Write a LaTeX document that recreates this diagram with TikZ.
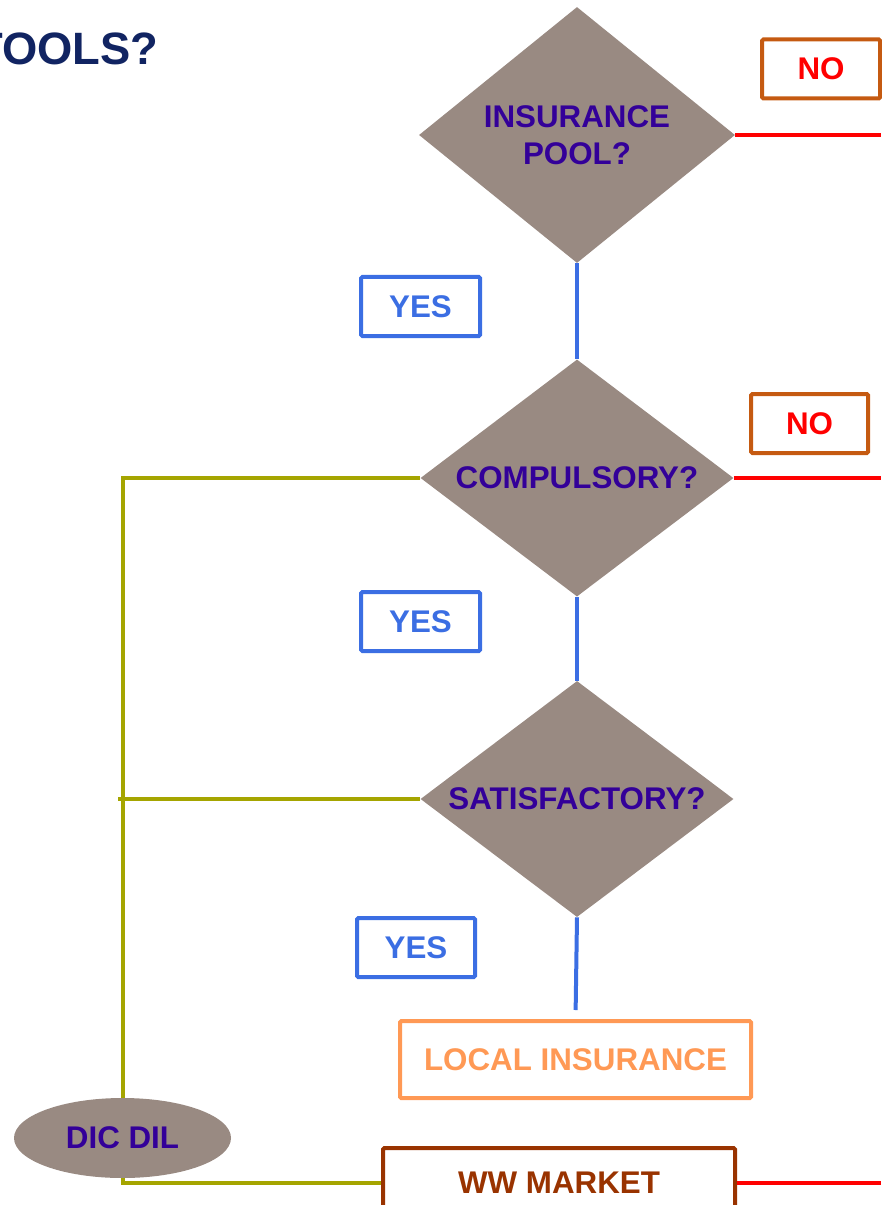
\documentclass[tikz,border=0pt]{standalone}
\usepackage{fontspec}
\setmainfont{Liberation Sans}
\usetikzlibrary{shapes.geometric}
\definecolor{DiamondGray}{RGB}{153,138,130}
\definecolor{AskPurple}{RGB}{51,0,153}
\definecolor{TitleNavy}{RGB}{17,36,98}
\definecolor{YesBlue}{RGB}{59,110,227}
\definecolor{NoOrange}{RGB}{197,90,17}
\definecolor{LocalOrange}{RGB}{255,153,85}
\definecolor{MarketBrown}{RGB}{153,51,0}
\definecolor{Olive}{RGB}{165,165,0}
\newlength{\Px}
\setlength{\Px}{0.75pt}
\tikzset{
  label font/.style={font=\fontsize{23.5}{28}\selectfont\bfseries},
  decision/.style={diamond, shape aspect=1.6, fill=DiamondGray, inner sep=0pt,
    text=AskPurple, align=center, label font},
  answer box/.style={draw, line width=3pt, rounded corners=1pt, inner sep=0pt, label font},
  yes box/.style={answer box, draw=YesBlue, text=YesBlue,
    minimum width=119\Px, minimum height=59\Px},
  no box/.style={answer box, draw=NoOrange, text=red,
    minimum width=118\Px, minimum height=59\Px},
  yes line/.style={draw=YesBlue, line width=3pt},
  no line/.style={draw=red, line width=3pt},
  dic line/.style={draw=Olive, line width=3pt},
}

\begin{document}
\begin{tikzpicture}[x=1\Px, y=-1\Px]
  \useasboundingbox (0,0) rectangle (881,1205);

  \node[anchor=base east, text=TitleNavy, font=\fontsize{34}{40}\selectfont\bfseries]
    (title) at (163,65) {TOOLS?};

  % questions
  \node[decision, minimum width=316\Px, minimum height=256\Px] (pool) at (577,135)
    {INSURANCE\\POOL?};
  \node[decision, minimum width=313\Px, minimum height=237\Px] (compulsory) at (577,478)
    {COMPULSORY?};
  \node[decision, minimum width=313\Px, minimum height=236\Px] (satisfactory) at (577,799)
    {SATISFACTORY?};

  % answers
  \node[no box] (no pool) at (821,69) {NO};
  \node[no box, minimum width=117\Px] (no compulsory) at (809.5,423.5) {NO};
  \node[yes box] (yes pool) at (420.5,306.5) {YES};
  \node[yes box] (yes compulsory) at (420.5,621.5) {YES};
  \node[yes box, minimum width=118\Px] (yes satisfactory) at (416,947.5) {YES};

  % outcomes
  \node[answer box, draw=LocalOrange, text=LocalOrange,
    minimum width=351\Px, minimum height=77\Px] (local) at (575.5,1059.5) {LOCAL INSURANCE};
  \node[ellipse, fill=DiamondGray, text=AskPurple, label font, inner sep=0pt,
    minimum width=217\Px, minimum height=80\Px] (dic) at (122.5,1138) {DIC DIL};
  \node[answer box, draw=MarketBrown, text=MarketBrown,
    minimum width=352\Px, minimum height=70\Px] (market) at (559,1183) {WW MARKET};

  \coordinate (pool end) at (881,135);
  \coordinate (compulsory end) at (881,478);
  \coordinate (market end) at (881,1183);

  \draw[yes line] (pool.south) -- (compulsory.north);
  \draw[yes line] (compulsory.south) -- (satisfactory.north);
  \draw[yes line, shorten >=9\Px] (satisfactory.south) -- (local.north);

  \draw[no line] (pool.east) -- (pool end);
  \draw[no line] (compulsory.east) -- (compulsory end);
  \draw[no line] (market.east) -- (market end);

  \draw[dic line] (compulsory.west) -| (dic.north);
  \draw[dic line] (satisfactory.west) -- ([xshift=-5\Px]satisfactory.west -| dic.north);
  \draw[dic line] (dic.south) |- (market.west);
\end{tikzpicture}
\end{document}
